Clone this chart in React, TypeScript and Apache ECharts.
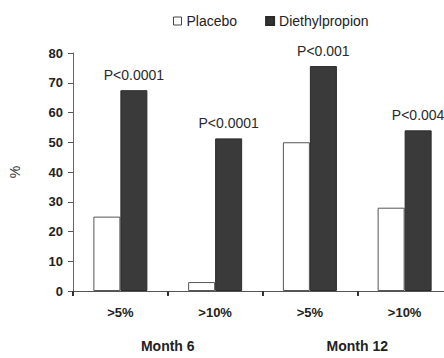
import React, { useEffect, useRef } from "react";
import * as echarts from "echarts";

const categories = [">5%", ">10%", ">5%", ">10%"];
const groups = ["Month 6", "Month 12"];
const placebo = [25, 3, 50, 28];
const diethylpropion = [67.5, 51.3, 75.6, 54];
const pValues = ["P<0.0001", "P<0.0001", "P<0.001", "P<0.004"];

export default function App() {
  const ref = useRef<HTMLDivElement>(null);
  useEffect(() => {
    if (!ref.current) return;
    const chart = echarts.init(ref.current, null, { renderer: "svg" });
    const font = "Liberation Sans, Arial, sans-serif";
    chart.setOption({
      animation: false,
      textStyle: { fontFamily: font },
      legend: {
        top: 9,
        left: 168,
        itemWidth: 8,
        itemHeight: 8,
        itemGap: 28,
        textStyle: { fontSize: 14, color: "#222", fontFamily: font },
        data: [
          { name: "Placebo", icon: "rect", itemStyle: { color: "#fff", borderColor: "#444", borderWidth: 1 } },
          { name: "Diethylpropion", icon: "rect", itemStyle: { color: "#333" } },
        ],
      },
      grid: { left: 72, top: 53, bottom: 67, right: 0, containLabel: false },
      xAxis: [
        {
          type: "category",
          data: categories,
          axisLine: { lineStyle: { color: "#555", width: 1 } },
          axisTick: { show: true, length: 5, lineStyle: { color: "#333", width: 2 } },
          axisLabel: { fontSize: 13, fontWeight: "bold", color: "#222", margin: 15, fontFamily: font },
        },
        {
          type: "category",
          data: groups,
          position: "bottom",
          axisLine: { show: false },
          axisTick: { show: false },
          axisLabel: { fontSize: 14, fontWeight: "bold", color: "#222", margin: 48, fontFamily: font },
        },
      ],
      yAxis: {
        type: "value",
        min: 0,
        max: 80,
        interval: 10,
        name: "%",
        nameLocation: "middle",
        nameRotate: 90,
        nameGap: 51,
        nameTextStyle: { fontSize: 14, color: "#333", fontFamily: font },
        splitLine: { show: false },
        axisLine: { show: true, lineStyle: { color: "#666", width: 1 } },
        axisTick: { show: true, length: 5, lineStyle: { color: "#555" } },
        axisLabel: { fontSize: 13, fontWeight: "bold", color: "#222", margin: 10, fontFamily: font },
      },
      series: [
        {
          name: "Placebo",
          type: "bar",
          xAxisIndex: 0,
          data: placebo,
          barWidth: 27,
          barGap: "0%",
          itemStyle: { color: "#fff", borderColor: "#555", borderWidth: 1 },
        },
        {
          name: "Diethylpropion",
          type: "bar",
          xAxisIndex: 0,
          data: diethylpropion,
          barWidth: 27,
          barGap: "0%",
          itemStyle: { color: "#3a3a3a", borderColor: "#2a2a2a", borderWidth: 1 },
          label: {
            show: true,
            position: "top",
            distance: 8,
            fontSize: 14,
            color: "#2a2a2a",
            fontFamily: font,
            formatter: (p: any) => pValues[p.dataIndex],
          },
        },
      ],
    });
    return () => chart.dispose();
  }, []);
  return (
    <div style={{ position: "absolute", left: 0, top: 0, width: 444, height: 358, overflow: "hidden" }}>
      <div ref={ref} style={{ width: 452, height: 358 }} />
    </div>
  );
}
